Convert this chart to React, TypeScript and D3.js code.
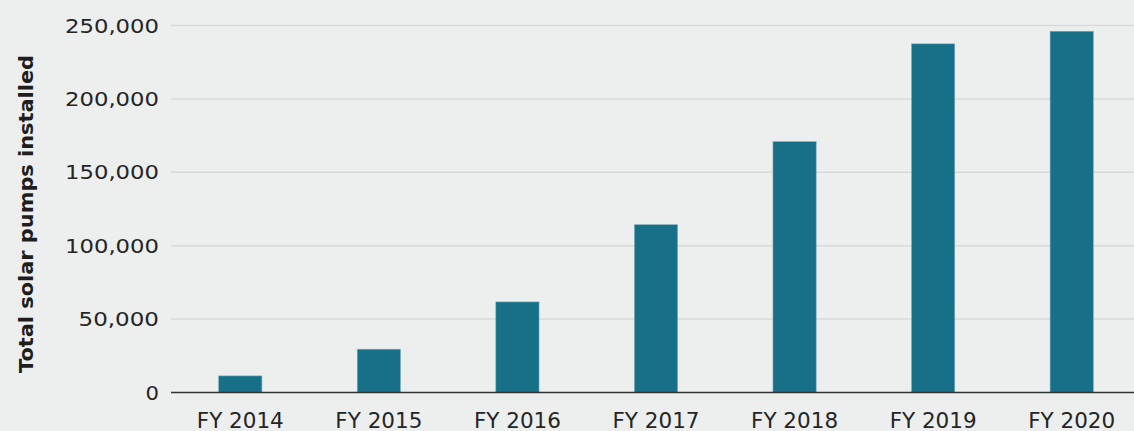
import React from "react";
import * as d3 from "d3";

const categories = ["FY 2014", "FY 2015", "FY 2016", "FY 2017", "FY 2018", "FY 2019", "FY 2020"];
const values = [11300, 29500, 61700, 114300, 170900, 237500, 246100];
const yTicks = [0, 50000, 100000, 150000, 200000, 250000];

const W = 1134;
const H = 431;
const M = { left: 171, right: -7, top: 25.5, bottom: 38.5 };

export default function App() {
  const x = d3
    .scaleBand<string>()
    .domain(categories)
    .range([M.left, W - M.right])
    .paddingInner(0.688)
    .paddingOuter(0.344);
  const y = d3
    .scaleLinear()
    .domain([0, 250000])
    .range([H - M.bottom, M.top]);
  const fmt = d3.format(",");
  const font = "'DejaVu Sans', sans-serif";
  const tickLen = (s: string) => {
    const digits = s.replace(/,/g, "").length;
    const commas = s.length - digits;
    return digits * 13.5 + commas * 13;
  };

  return (
    <svg
      width={W}
      height={H}
      style={{ position: "absolute", left: 0, top: 0, background: "#edefee", display: "block" }}
    >
      <rect x={0} y={0} width={W} height={H} fill="#edefee" />
      {yTicks.map((t) =>
        t === 0 ? null : (
          <line key={t} x1={M.left} x2={W} y1={y(t)} y2={y(t)} stroke="#d8dada" strokeWidth={1.5} />
        )
      )}
      {yTicks.map((t) => (
        <text
          key={"l" + t}
          x={159}
          y={y(t) + 7}
          textAnchor="end"
          fontFamily={font}
          fontSize={19.5}
          fill="#252525"
          textLength={tickLen(fmt(t))}
          lengthAdjust="spacingAndGlyphs"
        >
          {fmt(t)}
        </text>
      ))}
      {categories.map((c, i) => (
        <rect
          key={c}
          x={x(c)}
          y={y(values[i])}
          width={x.bandwidth()}
          height={y(0) - y(values[i])}
          fill="#177087"
          stroke="#7fb0bd"
          strokeWidth={0.6}
        />
      ))}
      <line x1={M.left} x2={W} y1={y(0)} y2={y(0)} stroke="#333" strokeWidth={1.5} />
      {categories.map((c) => (
        <text
          key={"x" + c}
          x={(x(c) as number) + x.bandwidth() / 2}
          y={428.3}
          textAnchor="middle"
          fontFamily={font}
          fontSize={20.5}
          fill="#252525"
          textLength={87}
          lengthAdjust="spacingAndGlyphs"
        >
          {c}
        </text>
      ))}
      <text
        transform={`translate(32.5, ${214}) rotate(-90)`}
        textAnchor="middle"
        fontFamily={font}
        fontSize={19.5}
        fontWeight="bold"
        fill="#1e1e1e"
        textLength={318}
        lengthAdjust="spacingAndGlyphs"
      >
        Total solar pumps installed
      </text>
    </svg>
  );
}
